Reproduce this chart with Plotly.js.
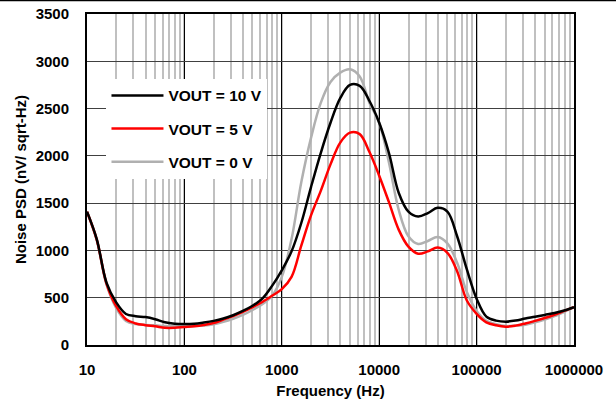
<!DOCTYPE html>
<html>
<head>
<meta charset="utf-8">
<script src="https://cdn.plot.ly/plotly-3.0.1.min.js"></script>
<style>html,body{margin:0;padding:0;background:#fff;}#chart{width:616px;height:399px;}</style>
</head>
<body>
<div id="chart"></div>
<script>
const freq = [10, 12.59, 15.85, 19.95, 25.12, 31.62, 39.81, 50.12, 63.1, 79.43,
  100, 125.9, 158.5, 199.5, 251.2, 316.2, 398.1, 501.2, 631, 794.3,
  1000, 1259, 1585, 1995, 2512, 3162, 3981, 5012, 6310, 7943,
  10000, 12589, 15849, 19953, 25119, 31623, 39811, 50119, 63096, 79433,
  100000, 125893, 158489, 199526, 251189, 316228, 398107, 501187, 630957, 794328, 1000000];
const vout10 = [1410, 1120, 660, 450, 328, 305, 295, 272, 240, 226,
  222, 225, 238, 255, 280, 315, 360, 415, 490, 625,
  790, 990, 1290, 1670, 2030, 2350, 2610, 2750, 2740, 2580,
  2350, 2030, 1610, 1410, 1358, 1395, 1450, 1410, 1150, 800,
  490, 300, 258, 247, 258, 280, 298, 318, 338, 365, 400];
const vout5 = [1410, 1115, 650, 410, 272, 228, 210, 198, 182, 182,
  190, 198, 212, 232, 268, 305, 350, 400, 455, 520,
  590, 720, 1050, 1370, 1630, 1910, 2140, 2245, 2230, 2040,
  1790, 1510, 1220, 1040, 965, 990, 1030, 975, 780, 470,
  330, 240, 208, 194, 205, 228, 255, 285, 320, 360, 400];
const vout0 = [1410, 1110, 640, 390, 255, 222, 212, 208, 200, 198,
  198, 200, 206, 220, 245, 278, 318, 370, 430, 520,
  720, 1120, 1720, 2190, 2560, 2780, 2880, 2915, 2840, 2560,
  2350, 1930, 1430, 1150, 1068, 1100, 1142, 1075, 870, 560,
  360, 255, 220, 200, 205, 215, 240, 270, 305, 350, 400];
const seriesNames = ["VOUT = 10 V", "VOUT = 5 V", "VOUT = 0 V"];
const xTickVals = [10, 100, 1000, 10000, 100000, 1000000];
const xTickText = ["10", "100", "1000", "10000", "100000", "1000000"];
const yTickVals = [0, 500, 1000, 1500, 2000, 2500, 3000, 3500];

const fnt = {family: "Arial, 'Liberation Sans', sans-serif", size: 15, color: "#000", weight: 700};
const legFnt = Object.assign({}, fnt, {size: 15.5});
const colors = ["#000000", "#ff0000", "#b0b0b0"];
const ys = [vout10, vout5, vout0];
const traces = ys.map((y, i) => ({
  x: freq, y: y, type: "scatter", mode: "lines", name: seriesNames[i],
  legendgroup: "g" + i, legendrank: i + 1,
  line: {color: colors[i], width: 2.5, shape: "spline", smoothing: 1}
}));
// draw order: gray under, then red, then black on top
const data = [traces[2], traces[1], traces[0]];

const layout = {
  width: 616, height: 399,
  margin: {l: 87, r: 42, t: 14, b: 54},
  paper_bgcolor: "#fff", plot_bgcolor: "#fff",
  font: fnt,
  showlegend: true,
  legend: {
    x: 0.04, y: 0.804, xanchor: "left", yanchor: "top",
    bgcolor: "#fff", borderwidth: 0, font: legFnt,
    tracegroupgap: 10, itemwidth: 52, traceorder: "grouped"
  },
  xaxis: {
    type: "log", range: [1, 6],
    tickvals: xTickVals, ticktext: xTickText,
    showgrid: true, gridcolor: "#000", gridwidth: 1,
    minor: {dtick: "D1", showgrid: true, gridcolor: "#c0c0c0", gridwidth: 2, ticks: ""},
    showline: true, linecolor: "#000", linewidth: 2, mirror: true,
    ticks: "", ticklabelstandoff: 10, tickfont: fnt,
    zeroline: false,
    title: {text: "Frequency (Hz)", font: fnt, standoff: 14}
  },
  yaxis: {
    range: [0, 3500], tickvals: yTickVals,
    showgrid: true, gridcolor: "#404040", gridwidth: 1.2,
    showline: true, linecolor: "#000", linewidth: 2, mirror: true,
    ticks: "", ticklabelstandoff: 13, tickfont: fnt,
    zeroline: false,
    title: {text: "Noise PSD (nV/ sqrt-Hz)", font: fnt, standoff: 5}
  },
  shapes: [
    {type: "line", xref: "paper", yref: "paper", x0: -0.2, x1: 1.09, y0: 1.041, y1: 1.041, line: {color: "#000", width: 1.5}}
  ]
};
Plotly.newPlot("chart", data, layout, {staticPlot: true, displayModeBar: false});
</script>
</body>
</html>
